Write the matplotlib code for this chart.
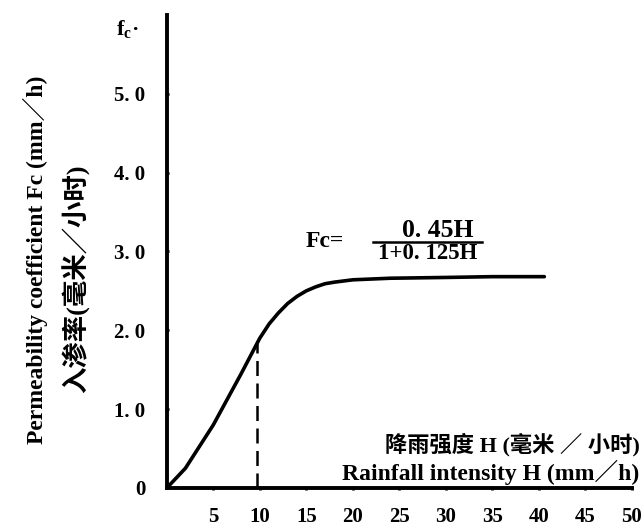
import matplotlib.pyplot as plt

# values
rain_h = [0, 2, 5, 8, 10, 11, 12, 13, 14, 15, 16, 17, 18, 20, 24, 30, 35, 40.6]
fc = [0, 0.25, 0.8, 1.45, 1.9, 2.08, 2.22, 2.34, 2.43, 2.5, 2.55, 2.59, 2.61,
      2.64, 2.66, 2.67, 2.68, 2.68]
x_ticks = [5, 10, 15, 20, 25, 30, 35, 40, 45, 50]
y_ticks = [0, 1, 2, 3, 4, 5]
y_tick_labels = ["0", "1. 0", "2. 0", "3. 0", "4. 0", "5. 0"]
dash_h = 9.7
dash_fc = 1.87

serif = ["Liberation Serif", "Noto Sans CJK SC", "DejaVu Sans"]
plt.rcParams["font.family"] = serif

fig = plt.figure(figsize=(6.44, 5.31), dpi=100)
ax = fig.add_axes([0.259, 0.081, 0.722, 0.891])

ax.plot(rain_h, fc, color="black", lw=2.6, solid_capstyle="round",
        solid_joinstyle="round")
ax.plot([dash_h, dash_h], [0, dash_fc], color="black", lw=1.8, ls=(0, (6, 3)))

ax.set_xlim(0, 50)
ax.set_ylim(0, 6)
for s in ["top", "right"]:
    ax.spines[s].set_visible(False)
for s in ["left", "bottom"]:
    ax.spines[s].set_linewidth(2.8)

ax.set_xticks(x_ticks)
ax.set_xticklabels([str(t) for t in x_ticks], fontsize=15, fontweight="bold")
ax.set_yticks(y_ticks)
ax.set_yticklabels(y_tick_labels, fontsize=15, fontweight="bold")
ax.tick_params(axis="x", length=3, width=2, direction="inout", pad=12)
ax.tick_params(axis="y", length=3, width=2, direction="inout", pad=14)

fig.text(0.18, 0.945, "f$_{\\mathregular{c}}$·", fontsize=16, fontweight="bold",
         ha="left", va="center")

fig.text(0.055, 0.51, "Permeability coefficient Fc (mm／h)", rotation=90,
         fontsize=17, fontweight="bold", ha="center", va="center")
fig.text(0.118, 0.475, "入渗率(毫米／小时)", rotation=90, fontsize=19,
         ha="center", va="center", fontweight="bold")

fig.text(0.993, 0.163, "降雨强度 H (毫米 ／ 小时)", fontsize=16, ha="right",
         va="center", fontweight="bold")
fig.text(0.993, 0.111, "Rainfall intensity H (mm／h)", fontsize=17,
         fontweight="bold", ha="right", va="center")

# formula annotation
fig.text(0.474, 0.545, "Fc=", fontsize=17, fontweight="bold", ha="left", va="center")
fig.text(0.679, 0.566, "0. 45H", fontsize=18.5, fontweight="bold", ha="center",
         va="center")
fig.text(0.664, 0.522, "1+0. 125H", fontsize=16.5, fontweight="bold", ha="center",
         va="center")
fig.add_artist(plt.Line2D([0.579, 0.749], [0.545, 0.545], color="black", lw=1.8))

fig.savefig("out.png", dpi=100)
